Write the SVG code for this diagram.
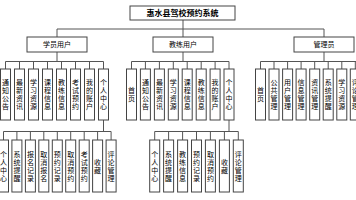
<svg xmlns="http://www.w3.org/2000/svg" width="356" height="200" viewBox="0 0 356 200">
<style>
.b{fill:#fff;stroke:#444;stroke-width:1}
.c{fill:none;stroke:#555;stroke-width:1}
text{font-family:"Noto Sans CJK SC","Noto Sans",sans-serif;fill:#000;text-anchor:middle}
.t{font-size:8px;font-weight:bold}
.l{font-size:7px}
.v{font-size:7px;writing-mode:vertical-rl;text-orientation:upright;letter-spacing:1px}
</style>
<rect width="356" height="200" fill="#fff"/>
<g id="connectors" class="c">
<path d="M183 20V29M57 29H324M57 29V37M183 29V37M324 29V37"/>
<path d="M57 52V61.5M5.5 61.5H103.5M5.5 61.5V69M19.5 61.5V69M33.5 61.5V69M47.5 61.5V69M61.5 61.5V69M75.5 61.5V69M89.5 61.5V69M103.5 61.5V69"/>
<path d="M183 52V61.5M131.5 61.5H229M131.5 61.5V69M145.4 61.5V69M159.4 61.5V69M173.3 61.5V69M187.2 61.5V69M201.2 61.5V69M215.1 61.5V69M229 61.5V69"/>
<path d="M324 52V61.5M260.5 61.5H356M260.5 61.5V69M274 61.5V69M287.6 61.5V69M301.1 61.5V69M314.7 61.5V69M328.2 61.5V69M341.8 61.5V69M355.3 61.5V69"/>
<path d="M103.5 120V131.5M3.5 131.5H111.1M3.5 131.5V140M16.9 131.5V140M30.4 131.5V140M43.8 131.5V140M57.3 131.5V140M70.7 131.5V140M84.2 131.5V140M97.6 131.5V140M111.1 131.5V140"/>
<path d="M229 120V131.5M154.7 131.5H238.3M154.7 131.5V140M168.6 131.5V140M182.6 131.5V140M196.5 131.5V140M210.4 131.5V140M224.4 131.5V140M238.3 131.5V140"/>
</g>
<g id="root"><rect class="b" x="130" y="6" width="105" height="14"/><text class="t" x="182.5" y="16">惠水县驾校预约系统</text></g>
<g id="student"><rect class="b" x="27" y="37" width="60" height="15"/><text class="l" x="57" y="47">学员用户</text></g>
<g id="teacher"><rect class="b" x="153" y="37" width="60" height="15"/><text class="l" x="183" y="47">教练用户</text></g>
<g id="admin"><rect class="b" x="294" y="37" width="60" height="15"/><text class="l" x="324" y="47">管理员</text></g>

<g id="s1"><rect class="b" x="0.5" y="69" width="10" height="51"/><text class="v" x="5.5" y="95">通知公告</text></g>
<g id="s2"><rect class="b" x="14.5" y="69" width="10" height="51"/><text class="v" x="19.5" y="95">最新资讯</text></g>
<g id="s3"><rect class="b" x="28.5" y="69" width="10" height="51"/><text class="v" x="33.5" y="95">学习资源</text></g>
<g id="s4"><rect class="b" x="42.5" y="69" width="10" height="51"/><text class="v" x="47.5" y="95">课程信息</text></g>
<g id="s5"><rect class="b" x="56.5" y="69" width="10" height="51"/><text class="v" x="61.5" y="95">教练信息</text></g>
<g id="s6"><rect class="b" x="70.5" y="69" width="10" height="51"/><text class="v" x="75.5" y="95">考试预约</text></g>
<g id="s7"><rect class="b" x="84.5" y="69" width="10" height="51"/><text class="v" x="89.5" y="95">我的账户</text></g>
<g id="s8"><rect class="b" x="98.5" y="69" width="10" height="51"/><text class="v" x="103.5" y="95">个人中心</text></g>

<g id="t1"><rect class="b" x="126.5" y="69" width="10" height="51"/><text class="v" x="131.5" y="95">首页</text></g>
<g id="t2"><rect class="b" x="140.4" y="69" width="10" height="51"/><text class="v" x="145.4" y="95">通知公告</text></g>
<g id="t3"><rect class="b" x="154.4" y="69" width="10" height="51"/><text class="v" x="159.4" y="95">最新资讯</text></g>
<g id="t4"><rect class="b" x="168.3" y="69" width="10" height="51"/><text class="v" x="173.3" y="95">学习资源</text></g>
<g id="t5"><rect class="b" x="182.2" y="69" width="10" height="51"/><text class="v" x="187.2" y="95">课程信息</text></g>
<g id="t6"><rect class="b" x="196.2" y="69" width="10" height="51"/><text class="v" x="201.2" y="95">教练信息</text></g>
<g id="t7"><rect class="b" x="210.1" y="69" width="10" height="51"/><text class="v" x="215.1" y="95">我的账户</text></g>
<g id="t8"><rect class="b" x="224" y="69" width="10" height="51"/><text class="v" x="229" y="95">个人中心</text></g>

<g id="a1"><rect class="b" x="255.5" y="69" width="10" height="51"/><text class="v" x="260.5" y="95">首页</text></g>
<g id="a2"><rect class="b" x="269" y="69" width="10" height="51"/><text class="v" x="274" y="95">公共管理</text></g>
<g id="a3"><rect class="b" x="282.6" y="69" width="10" height="51"/><text class="v" x="287.6" y="95">用户管理</text></g>
<g id="a4"><rect class="b" x="296.1" y="69" width="10" height="51"/><text class="v" x="301.1" y="95">信息管理</text></g>
<g id="a5"><rect class="b" x="309.7" y="69" width="10" height="51"/><text class="v" x="314.7" y="95">资讯管理</text></g>
<g id="a6"><rect class="b" x="323.2" y="69" width="10" height="51"/><text class="v" x="328.2" y="95">系统提醒</text></g>
<g id="a7"><rect class="b" x="336.8" y="69" width="10" height="51"/><text class="v" x="341.8" y="95">学习资源</text></g>
<g id="a8"><rect class="b" x="350.3" y="69" width="10" height="51"/><text class="v" x="355.3" y="95">评论管理</text></g>

<g id="sp1"><rect class="b" x="-1.5" y="140" width="10" height="52"/><text class="v" x="3.5" y="166.5">个人中心</text></g>
<g id="sp2"><rect class="b" x="11.9" y="140" width="10" height="52"/><text class="v" x="16.9" y="166.5">系统提醒</text></g>
<g id="sp3"><rect class="b" x="25.4" y="140" width="10" height="52"/><text class="v" x="30.4" y="166.5">报名记录</text></g>
<g id="sp4"><rect class="b" x="38.8" y="140" width="10" height="52"/><text class="v" x="43.8" y="166.5">取消报名</text></g>
<g id="sp5"><rect class="b" x="52.3" y="140" width="10" height="52"/><text class="v" x="57.3" y="166.5">预约记录</text></g>
<g id="sp6"><rect class="b" x="65.7" y="140" width="10" height="52"/><text class="v" x="70.7" y="166.5">取消预约</text></g>
<g id="sp7"><rect class="b" x="79.2" y="140" width="10" height="52"/><text class="v" x="84.2" y="166.5">考试预约</text></g>
<g id="sp8"><rect class="b" x="92.6" y="140" width="10" height="52"/><text class="v" x="97.6" y="166.5">收藏</text></g>
<g id="sp9"><rect class="b" x="106.1" y="140" width="10" height="52"/><text class="v" x="111.1" y="166.5">评论管理</text></g>

<g id="tp1"><rect class="b" x="149.7" y="140" width="10" height="52"/><text class="v" x="154.7" y="166.5">个人中心</text></g>
<g id="tp2"><rect class="b" x="163.6" y="140" width="10" height="52"/><text class="v" x="168.6" y="166.5">系统提醒</text></g>
<g id="tp3"><rect class="b" x="177.6" y="140" width="10" height="52"/><text class="v" x="182.6" y="166.5">教练信息</text></g>
<g id="tp4"><rect class="b" x="191.5" y="140" width="10" height="52"/><text class="v" x="196.5" y="166.5">预约记录</text></g>
<g id="tp5"><rect class="b" x="205.4" y="140" width="10" height="52"/><text class="v" x="210.4" y="166.5">取消预约</text></g>
<g id="tp6"><rect class="b" x="219.4" y="140" width="10" height="52"/><text class="v" x="224.4" y="166.5">收藏</text></g>
<g id="tp7"><rect class="b" x="233.3" y="140" width="10" height="52"/><text class="v" x="238.3" y="166.5">评论管理</text></g>
</svg>
